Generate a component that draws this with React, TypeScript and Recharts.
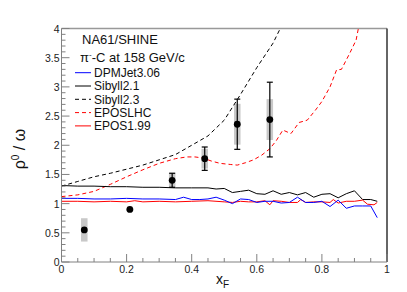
import React from "react";
import {
  ComposedChart,
  Line,
  Scatter,
  ErrorBar,
  XAxis,
  YAxis,
  ReferenceArea,
  ReferenceLine,
} from "recharts";

// model curves, rho0/omega vs xF
const dpmjetX = [0, 0.05, 0.1, 0.15, 0.2, 0.25, 0.3, 0.35, 0.375, 0.4, 0.425, 0.45, 0.475, 0.5, 0.525, 0.55, 0.575, 0.6, 0.625, 0.65, 0.675, 0.7, 0.725, 0.75, 0.775, 0.8, 0.825, 0.85, 0.875, 0.9, 0.925, 0.95, 0.97];
const dpmjetY = [1.09, 1.09, 1.08, 1.08, 1.09, 1.08, 1.08, 1.07, 1.11, 1.07, 1.07, 1.08, 1.11, 1.06, 1.0, 1.08, 1.07, 1.02, 1.04, 1.04, 1.01, 1.02, 1.11, 1.02, 1.02, 1.04, 0.95, 1.06, 0.92, 0.96, 0.96, 0.96, 0.76];

const sibyll21X = [0, 0.05, 0.1, 0.15, 0.2, 0.25, 0.3, 0.35, 0.4, 0.45, 0.475, 0.5, 0.525, 0.55, 0.575, 0.6, 0.625, 0.65, 0.675, 0.7, 0.725, 0.75, 0.775, 0.8, 0.825, 0.85, 0.875, 0.9, 0.925, 0.95, 0.97];
const sibyll21Y = [1.31, 1.3, 1.3, 1.29, 1.29, 1.28, 1.28, 1.27, 1.27, 1.27, 1.25, 1.26, 1.19, 1.21, 1.23, 1.17, 1.16, 1.22, 1.16, 1.19, 1.15, 1.19, 1.11, 1.16, 1.17, 1.1, 1.17, 1.22, 1.07, 1.07, 1.04];

const sibyll23X = [0, 0.05, 0.1, 0.15, 0.2, 0.25, 0.3, 0.35, 0.4, 0.45, 0.5, 0.55, 0.6, 0.65, 0.672];
const sibyll23Y = [1.3, 1.38, 1.46, 1.52, 1.59, 1.66, 1.75, 1.84, 2.0, 2.16, 2.43, 2.87, 3.33, 3.75, 4.0];

const eposlhcX = [0, 0.05, 0.1, 0.15, 0.2, 0.25, 0.3, 0.35, 0.385, 0.41, 0.436, 0.46, 0.487, 0.52, 0.54, 0.565, 0.59, 0.615, 0.64, 0.66, 0.68, 0.705, 0.73, 0.755, 0.78, 0.8, 0.825, 0.845, 0.86, 0.885, 0.905, 0.912];
const eposlhcY = [1.12, 1.15, 1.21, 1.33, 1.46, 1.58, 1.69, 1.77, 1.8, 1.8, 1.78, 1.73, 1.69, 1.67, 1.66, 1.7, 1.75, 1.83, 1.94, 2.08, 2.26, 2.2, 2.39, 2.43, 2.6, 2.75, 3.0, 3.29, 3.3, 3.57, 3.8, 4.0];

const epos199X = [0, 0.05, 0.1, 0.15, 0.2, 0.225, 0.25, 0.3, 0.35, 0.4, 0.45, 0.5, 0.525, 0.55, 0.575, 0.6, 0.625, 0.64, 0.65, 0.675, 0.7, 0.725, 0.735, 0.75, 0.775, 0.8, 0.825, 0.835, 0.85, 0.875, 0.9, 0.925, 0.94, 0.96, 0.97];
const epos199Y = [1.04, 1.04, 1.03, 1.04, 1.03, 1.05, 1.03, 1.04, 1.03, 1.04, 1.05, 1.03, 1.02, 1.04, 1.03, 1.03, 1.05, 0.98, 1.05, 1.04, 1.02, 1.02, 1.07, 1.02, 1.03, 1.03, 1.02, 1.07, 1.01, 1.04, 1.04, 1.06, 0.99, 0.98, 1.02];

// NA61/SHINE measurement
const dataX = [0.07, 0.21, 0.34, 0.44, 0.54, 0.64];
const dataY = [0.55, 0.9, 1.4, 1.77, 2.36, 2.44];
const statErr = [0, 0, 0.12, 0.2, 0.43, 0.64];
const sysErr = [0.2, 0.02, 0.13, 0.17, 0.35, 0.35];

const legendNames = ["DPMJet3.06", "Sibyll2.1", "Sibyll2.3", "EPOSLHC", "EPOS1.99"];
const legendColors = ["#0000ff", "#000000", "#000000", "#ff0000", "#ff0000"];
const legendDash = ["", "", "4 3", "4 3", ""];

const xTicks = Array.from({ length: 21 }, (_, i) => Math.round(i * 5) / 100);
const yTicks = Array.from({ length: 41 }, (_, i) => Math.round(i * 10) / 100);

const zip = (xs: number[], ys: number[]) => xs.map((x, i) => ({ x, y: ys[i] }));
const points = dataX.map((x, i) => ({ x, y: dataY[i], err: statErr[i] }));

const axisColor = "#808080";
const font = "Liberation Sans, Arial, Helvetica, sans-serif";

const fmt = (v: number) => String(Number(v.toFixed(2)));

const XTick = (props: any) => {
  const { x, y, payload } = props;
  const v = payload.value;
  const major = Math.round(v * 100) % 20 === 0;
  return (
    <g>
      <line x1={x} x2={x} y1={y} y2={y - (major ? 8 : 4)} stroke={axisColor} />
      {major && (
        <text x={x} y={y + 11} textAnchor="middle" fontSize={10.5} fill="#222" fontFamily={font}>
          {fmt(v)}
        </text>
      )}
    </g>
  );
};

const YTick = (props: any) => {
  const { x, y, payload } = props;
  const v = payload.value;
  const major = Math.round(v * 100) % 50 === 0;
  return (
    <g>
      <line x1={x} x2={x + (major ? 8 : 4)} y1={y} y2={y} stroke={axisColor} />
      {major && (
        <text x={x - 2} y={y + 4} textAnchor="end" fontSize={10.5} fill="#222" fontFamily={font}>
          {fmt(v)}
        </text>
      )}
    </g>
  );
};

const Dot = (props: any) => <circle cx={props.cx} cy={props.cy} r={3.4} fill="#000" />;

export default function App() {
  return (
    <div style={{ position: "absolute", left: 0, top: 0, width: 407, height: 292, background: "#fff" }}>
      <ComposedChart width={407} height={292} margin={{ top: 28.5, right: 20, left: 0, bottom: 0 }}>
        <XAxis
          type="number"
          dataKey="x"
          domain={[0, 1]}
          ticks={xTicks}
          interval={0}
          tickSize={0}
          tickMargin={0}
          tickLine={false}
          height={30}
          stroke={axisColor}
          tick={<XTick />}
          allowDataOverflow
        />
        <YAxis
          type="number"
          dataKey="y"
          domain={[0, 4]}
          ticks={yTicks}
          interval={0}
          tickSize={0}
          tickMargin={0}
          tickLine={false}
          width={61.5}
          stroke={axisColor}
          tick={<YTick />}
          allowDataOverflow
        />
        <ReferenceLine y={4} stroke="#999" strokeWidth={1.5} />
        <ReferenceLine x={1} stroke="#333" strokeWidth={1.5} />

        <Line data={zip(sibyll23X, sibyll23Y)} dataKey="y" stroke="#000" strokeWidth={1} strokeDasharray="4 3" dot={false} isAnimationActive={false} />
        <Line data={zip(eposlhcX, eposlhcY)} dataKey="y" stroke="#ff0000" strokeWidth={1} strokeDasharray="4 3" dot={false} isAnimationActive={false} />
        <Line data={zip(sibyll21X, sibyll21Y)} dataKey="y" stroke="#000" strokeWidth={1} dot={false} isAnimationActive={false} />
        <Line data={zip(epos199X, epos199Y)} dataKey="y" stroke="#ff0000" strokeWidth={1} dot={false} isAnimationActive={false} />
        <Line data={zip(dpmjetX, dpmjetY)} dataKey="y" stroke="#0000ff" strokeWidth={1} dot={false} isAnimationActive={false} />

        {dataX.map((x, i) => (
          <ReferenceArea
            key={i}
            x1={x - 0.01}
            x2={x + 0.01}
            y1={dataY[i] - sysErr[i]}
            y2={dataY[i] + sysErr[i]}
            fill="#c8c8c8"
            fillOpacity={1}
            stroke="none"
          />
        ))}

        <Scatter data={points} dataKey="y" shape={<Dot />} isAnimationActive={false}>
          <ErrorBar dataKey="err" direction="y" width={3} stroke="#000" strokeWidth={1.2} />
        </Scatter>
      </ComposedChart>

      <svg width={407} height={292} style={{ position: "absolute", left: 0, top: 0, pointerEvents: "none" }} fontFamily={font}>
        <text x={82} y={44} fontSize={13} fill="#111">NA61/SHINE</text>
        <text x={80} y={61.5} fontSize={13} fill="#111">
          π<tspan dy={-5} fontSize={8}>-</tspan>
          <tspan dy={5}>-C at 158 GeV/c</tspan>
        </text>
        {legendNames.map((name, i) => {
          const cy = 72.7 + i * 13.3;
          return (
            <g key={name}>
              <line x1={75} x2={91} y1={cy} y2={cy} stroke={legendColors[i]} strokeDasharray={legendDash[i] || undefined} />
              <text x={94} y={cy + 4.3} fontSize={12} fill="#111">{name}</text>
            </g>
          );
        })}
        <text transform="translate(25,149) rotate(-90)" textAnchor="middle" fontSize={16} fill="#111">
          ρ<tspan dy={-6} fontSize={10}>0</tspan>
          <tspan dy={6}> / ω</tspan>
        </text>
        <text x={216} y={283.5} fontSize={14} fill="#111">
          x<tspan dy={4} fontSize={10}>F</tspan>
        </text>
      </svg>
    </div>
  );
}
